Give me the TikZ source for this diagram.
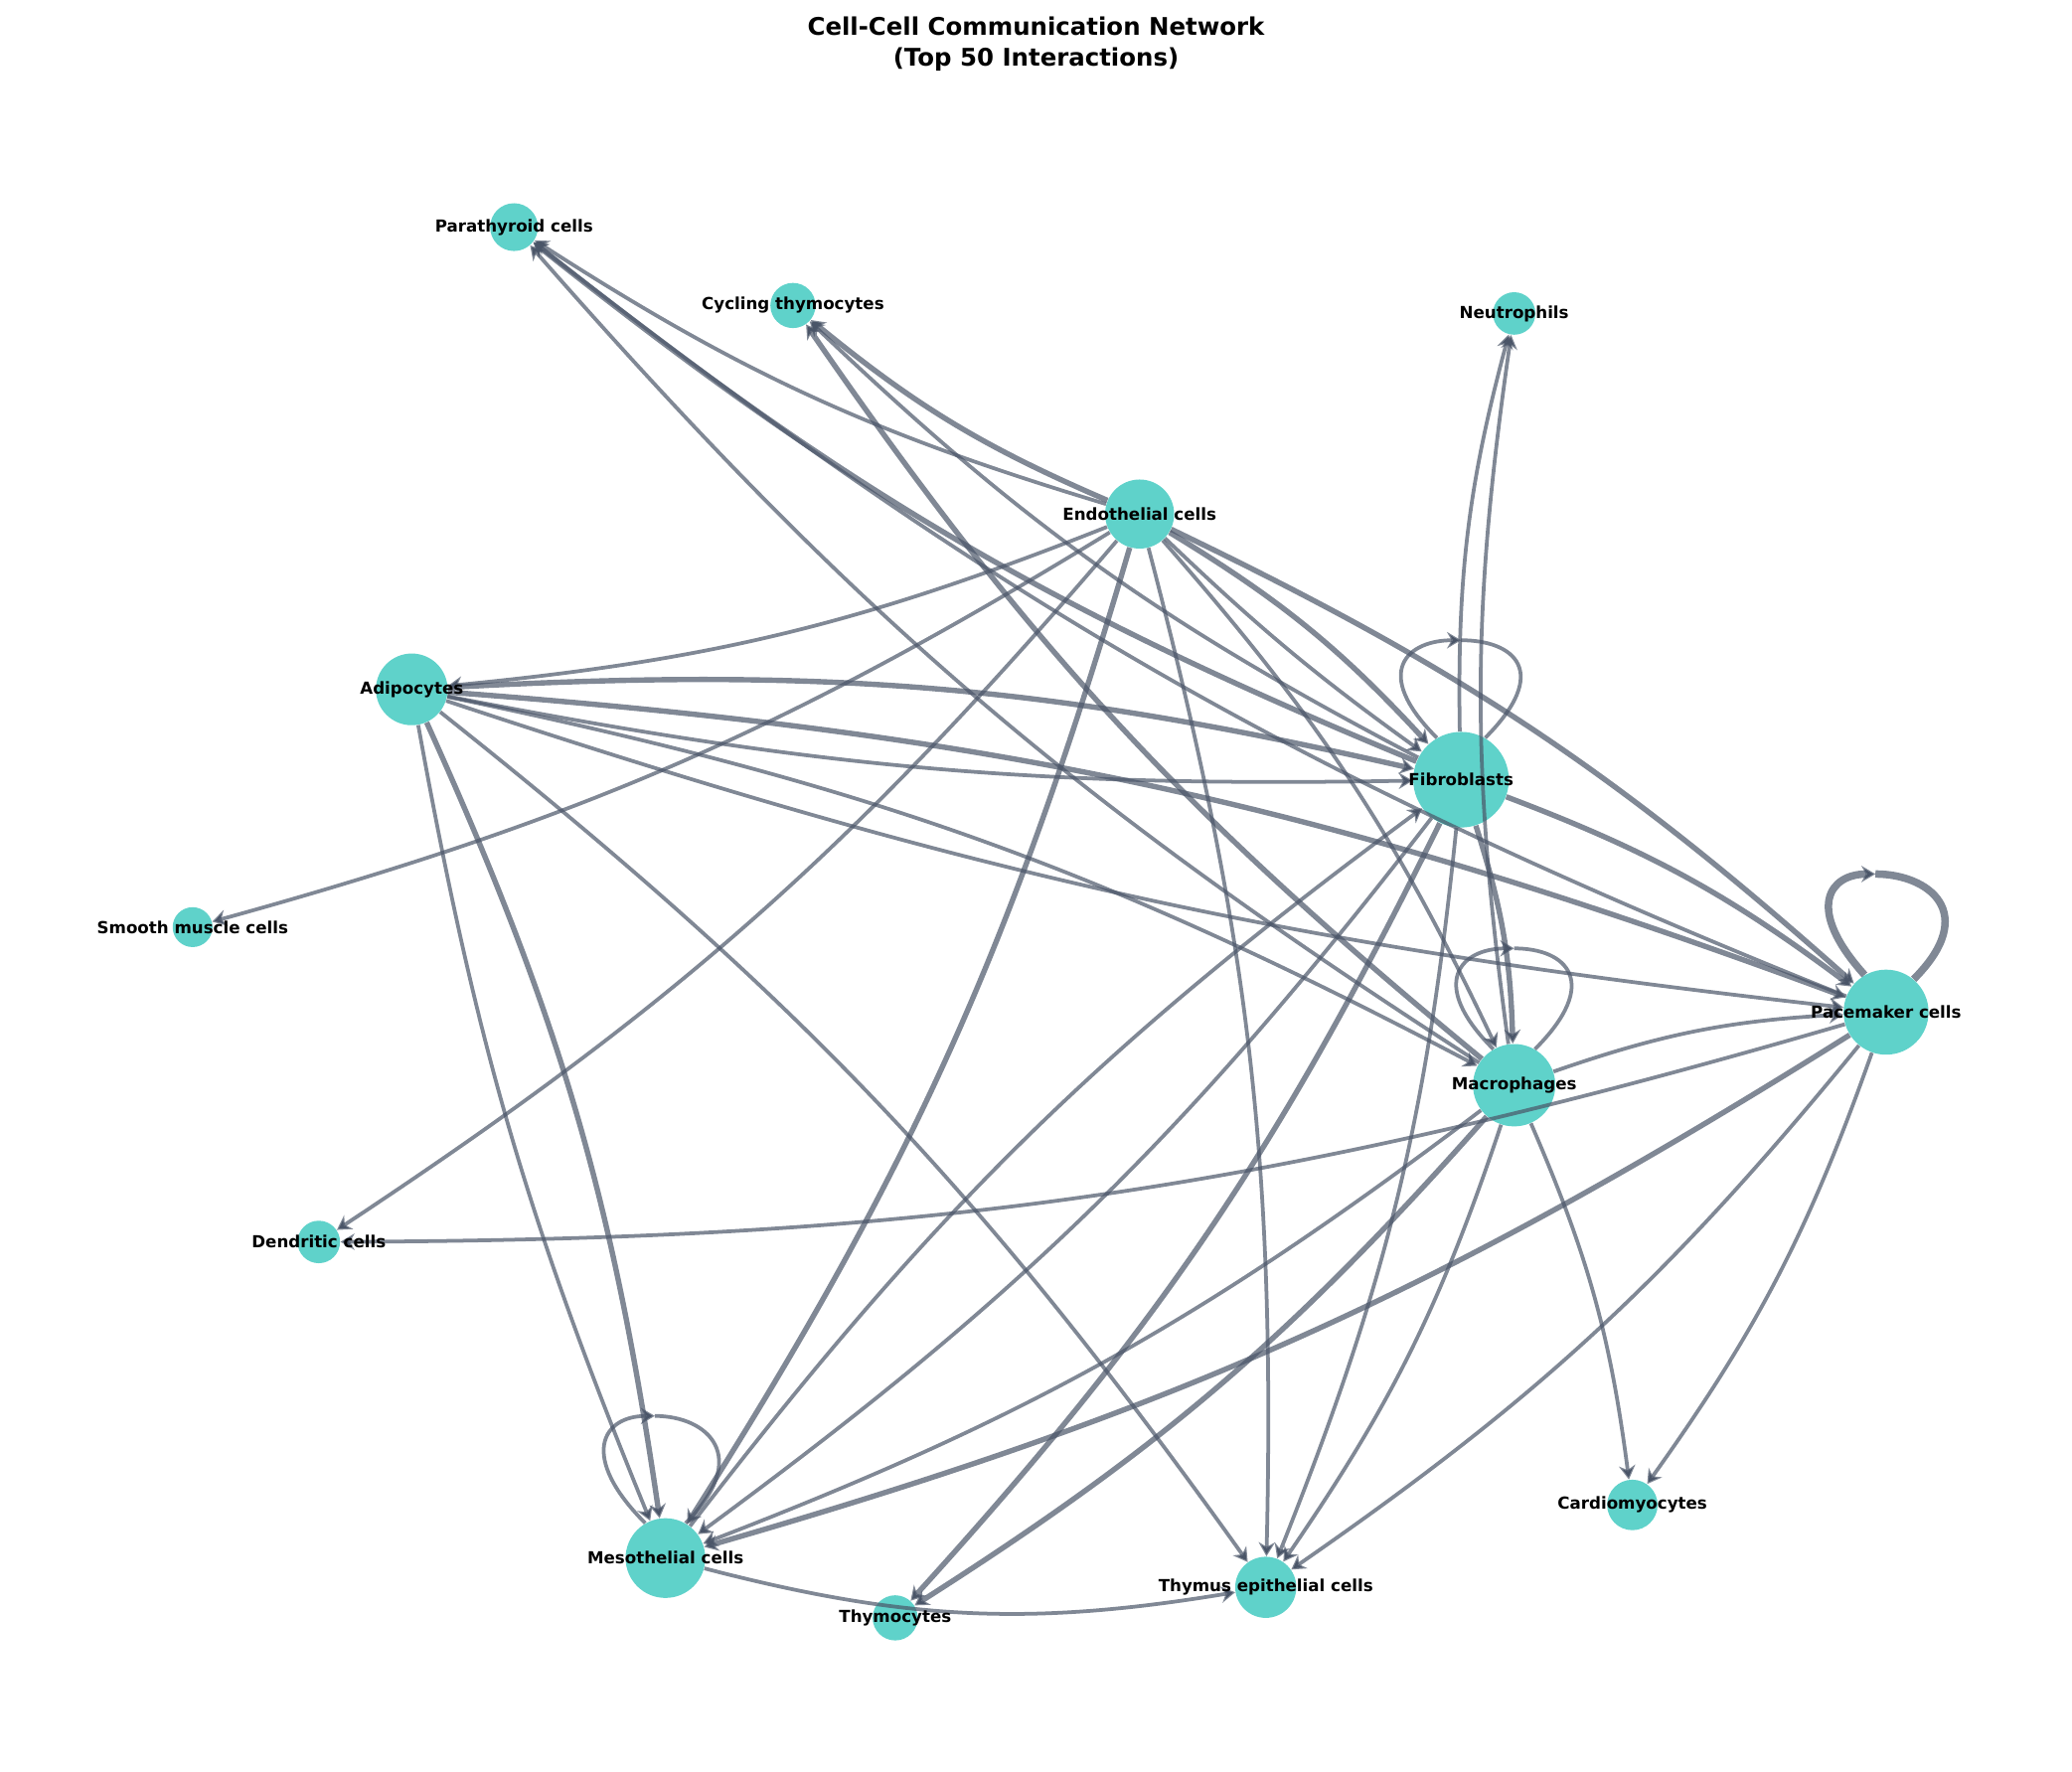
\documentclass[tikz,border=0pt]{standalone}
\usepackage{fontspec}
\setmainfont{DejaVu Sans}
\usetikzlibrary{arrows.meta}
\definecolor{cellfill}{HTML}{4ECDC4}
\definecolor{linkcol}{HTML}{4A5568}
\tikzset{
  cell/.style={circle, fill=cellfill, fill opacity=0.9, draw=none, inner sep=0pt},
  tag/.style={font=\fontsize{7.1}{8}\selectfont\bfseries, inner sep=0pt},
  base/.style={draw=linkcol, draw opacity=0.7, line width=1.6pt, -{Stealth[length=6pt,width=7pt]}},
  link/.style={base, bend left=8},
  heavy/.style={link, line width=2.3pt}
}
\begin{document}
\begin{tikzpicture}[x=0.02cm, y=-0.02cm]
            \useasboundingbox (0,0) rectangle (1560,1334);
            % Title
            \node[font=\fontsize{10.4}{13}\selectfont\bfseries, align=center] (title) at (780,33) {Cell-Cell Communication Network\\(Top 50 Interactions)};

            % Cells
            \node[cell, minimum size=36*0.02cm] (para) at (387,171) {};
            \node[cell, minimum size=34*0.02cm] (cyc) at (597,230) {};
            \node[cell, minimum size=32*0.02cm] (neu) at (1140,236) {};
            \node[cell, minimum size=52*0.02cm] (endo) at (858,387) {};
            \node[cell, minimum size=54*0.02cm] (adi) at (310,519) {};
            \node[cell, minimum size=72*0.02cm] (fib) at (1100,587) {};
            \node[cell, minimum size=30*0.02cm] (smc) at (145,698) {};
            \node[cell, minimum size=64*0.02cm] (pace) at (1420,762) {};
            \node[cell, minimum size=62*0.02cm] (mac) at (1140,817) {};
            \node[cell, minimum size=32*0.02cm] (den) at (240,935) {};
            \node[cell, minimum size=38*0.02cm] (card) at (1229,1133) {};
            \node[cell, minimum size=60*0.02cm] (meso) at (501,1173) {};
            \node[cell, minimum size=46*0.02cm] (tep) at (953,1195) {};
            \node[cell, minimum size=34*0.02cm] (thy) at (674,1218) {};

            % Self loops
            \coordinate (fib-top) at (1100,482);
            \coordinate (mac-top) at (1140,714);
            \coordinate (pace-top) at (1412,658);
            \coordinate (meso-top) at (493,1066);
            \draw[base, -] (fib.60) .. controls +(50,-50) and +(40,0) .. (fib-top);
            \draw[base] (fib.120) .. controls +(-50,-50) and +(-40,0) .. (fib-top);
            \draw[base, -] (mac.60) .. controls +(50,-50) and +(40,0) .. (mac-top);
            \draw[base] (mac.120) .. controls +(-50,-50) and +(-40,0) .. (mac-top);
            \draw[base, -, line width=3.2pt] (pace.50) .. controls +(50,-50) and +(40,0) .. (pace-top);
            \draw[base, line width=3.2pt] (pace.120) .. controls +(-45,-50) and +(-35,0) .. (pace-top);
            \draw[base, -] (meso.60) .. controls +(50,-50) and +(40,0) .. (meso-top);
            \draw[base] (meso.120) .. controls +(-50,-50) and +(-40,0) .. (meso-top);

            % Endothelial cells
            \draw[heavy] (endo) to (cyc);
            \draw[link] (endo) to (para);
            \draw[link] (endo) to (adi);
            \draw[link] (endo) to (smc);
            \draw[link] (endo) to (den);
            \draw[heavy] (endo) to (meso);
            \draw[link] (endo) to (tep);
            \draw[heavy] (endo) to (fib);
            \draw[link, bend left=-4] (endo) to (fib);
            \draw[heavy] (endo) to (pace);
            \draw[link] (endo) to (mac);

            % Adipocytes
            \draw[heavy] (adi) to (fib);
            \draw[link, bend left=-6] (adi) to (fib);
            \draw[heavy] (adi) to (pace);
            \draw[link, bend left=-6] (adi) to (pace);
            \draw[link] (adi) to (mac);
            \draw[heavy] (adi) to (meso);
            \draw[link, bend left=-6] (adi) to (meso);
            \draw[link] (adi) to (tep);

            % Fibroblasts
            \draw[heavy] (fib) to (para);
            \draw[link] (fib) to (cyc);
            \draw[link] (fib) to (neu);
            \draw[heavy] (fib) to (mac);
            \draw[heavy] (fib) to (pace);
            \draw[link] (fib) to (meso);
            \draw[heavy] (fib) to (thy);
            \draw[link] (fib) to (tep);

            % Macrophages
            \draw[link] (mac) to (para);
            \draw[heavy] (mac) to (cyc);
            \draw[link] (mac) to (neu);
            \draw[link] (mac) to (pace);
            \draw[link] (mac) to (meso);
            \draw[heavy] (mac) to (thy);
            \draw[link] (mac) to (tep);
            \draw[link] (mac) to (card);

            % Pacemaker cells
            \draw[link] (pace) to (para);
            \draw[link] (pace) to (den);
            \draw[heavy] (pace) to (meso);
            \draw[link] (pace) to (tep);
            \draw[link] (pace) to (card);

            % Mesothelial cells
            \draw[link, bend left=-12] (meso) to (tep);
            \draw[link] (meso) to (fib);

            % Labels
            \node[tag] (para-t) at (para) {Parathyroid cells};
            \node[tag] (cyc-t) at (cyc) {Cycling thymocytes};
            \node[tag] (neu-t) at (neu) {Neutrophils};
            \node[tag] (endo-t) at (endo) {Endothelial cells};
            \node[tag] (adi-t) at (adi) {Adipocytes};
            \node[tag] (fib-t) at (fib) {Fibroblasts};
            \node[tag] (smc-t) at (smc) {Smooth muscle cells};
            \node[tag] (pace-t) at (pace) {Pacemaker cells};
            \node[tag] (mac-t) at (mac) {Macrophages};
            \node[tag] (den-t) at (den) {Dendritic cells};
            \node[tag] (card-t) at (card) {Cardiomyocytes};
            \node[tag] (meso-t) at (meso) {Mesothelial cells};
            \node[tag] (tep-t) at (tep) {Thymus epithelial cells};
            \node[tag] (thy-t) at (thy) {Thymocytes};
\end{tikzpicture}
\end{document}
